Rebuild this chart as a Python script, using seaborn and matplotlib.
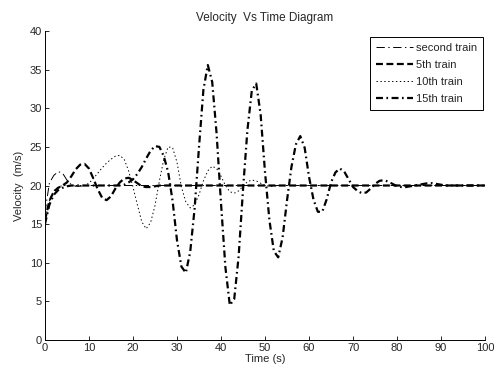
import matplotlib
matplotlib.use("Agg")
import matplotlib.pyplot as plt
import seaborn as sns
import pandas as pd

# ---- data ----
t_second = [0, 1, 2, 3, 4, 5, 6, 7, 8, 9, 100]
v_second = [16.5, 20.3, 21.3, 21.8, 21.6, 20.7, 20.1, 19.9, 19.9, 20.0, 20.0]

t_5th = [0, 1, 2, 3, 4, 5, 6, 7, 8, 9, 10, 11, 12, 13, 14, 15, 16, 17, 18, 19,
         20, 21, 22, 23, 24, 25, 26, 100]
v_5th = [15.5, 18.0, 19.2, 19.7, 20.0, 20.4, 21.2, 22.1, 22.7, 22.8, 22.2, 20.9,
         19.5, 18.4, 18.1, 18.6, 19.6, 20.4, 20.9, 21.0, 20.7, 20.3, 19.9, 19.8,
         19.8, 19.9, 20.0, 20.0]

t_10th = [0, 1, 2, 3, 4, 9, 10, 11, 12, 13, 14, 15, 16, 17, 18, 19, 20, 21, 22,
          23, 24, 25, 26, 27, 28, 29, 30, 31, 32, 33, 34, 35, 36, 37, 38, 39, 40,
          41, 42, 43, 44, 45, 46, 47, 48, 49, 50, 51, 52, 53, 100]
v_10th = [15.5, 18.0, 19.3, 19.8, 20.0, 20.0, 20.3, 20.9, 21.6, 22.3, 22.9, 23.4,
          23.8, 23.9, 23.4, 21.9, 19.8, 17.5, 15.3, 14.4, 15.2, 17.4, 20.6, 23.4,
          25.0, 24.9, 23.0, 19.8, 17.9, 17.1, 17.5, 18.8, 20.6, 21.9, 22.5, 22.2,
          21.2, 20.0, 19.2, 19.0, 19.3, 19.9, 20.5, 20.7, 20.6, 20.3, 20.0, 19.9,
          19.9, 20.0, 20.0]

t_15th = [0, 1, 2, 3, 4, 5, 6, 17, 18, 19, 20, 21, 22, 23, 24, 25, 26, 27,
          28, 29, 30, 31, 32, 33, 34, 35, 36, 37, 38, 39, 40, 41, 42, 43, 44, 45,
          46, 47, 48, 49, 50, 51, 52, 53, 54, 55, 56, 57, 58, 59, 60, 61, 62, 63,
          64, 65, 66, 67, 68, 69, 70, 71, 72, 73, 74, 75, 76, 77, 78, 79, 80, 81,
          82, 83, 84, 85, 86, 87, 88, 89, 90, 91, 100]
v_15th = [15.0, 17.5, 18.8, 19.4, 19.7, 19.9, 20.0, 20.0, 20.1, 20.4, 20.8,
          21.5, 22.4, 23.5, 24.5, 25.1, 25.0, 23.8, 21.7, 18.0, 12.9, 9.5, 8.7,
          11.4, 17.0, 25.0, 32.4, 35.6, 33.4, 26.7, 17.7, 9.4, 4.5, 5.3, 10.8,
          19.5, 27.2, 32.3, 33.2, 29.2, 21.7, 15.5, 11.5, 10.7, 13.3, 18.1, 22.4,
          25.3, 26.4, 24.9, 21.1, 18.2, 16.6, 16.6, 18.2, 20.4, 21.7, 22.2, 21.8,
          20.8, 19.8, 19.3, 19.0, 19.1, 19.6, 20.2, 20.6, 20.7, 20.5, 20.2, 19.9,
          19.8, 19.8, 19.9, 20.0, 20.1, 20.2, 20.3, 20.3, 20.2, 20.1, 20.0, 20.0]

labels = ["second train", "5th train", "10th train", "15th train"]
x_ticks = [0, 10, 20, 30, 40, 50, 60, 70, 80, 90, 100]
y_ticks = [0, 5, 10, 15, 20, 25, 30, 35, 40]

# ---- styling ----
sns.set_style("white")
plt.rcParams['font.family'] = ['Liberation Sans', 'DejaVu Sans']
plt.rcParams['lines.scale_dashes'] = False

fig = plt.figure(figsize=(4.94, 3.74), dpi=100)
ax = fig.add_axes([0.091, 0.091, 0.891, 0.826])

series = [(t_second, v_second), (t_5th, v_5th), (t_10th, v_10th), (t_15th, v_15th)]
styles = [
    dict(lw=0.7, ls=(0, (6, 2.5, 1, 2.5))),
    dict(lw=1.6, ls=(0, (5, 2.5))),
    dict(lw=0.7, ls=(0, (1, 1.8))),
    dict(lw=1.6, ls=(0, (5, 2.5, 1.2, 2.5))),
]
for (tt, vv), lab, st in zip(series, labels, styles):
    df = pd.DataFrame({"t": tt, "v": vv})
    sns.lineplot(data=df, x="t", y="v", ax=ax, color="black",
                 linewidth=st["lw"], linestyle=st["ls"], label=lab,
                 estimator=None, sort=False)

ax.set_xlim(0, 100)
ax.set_ylim(0, 40)
ax.set_xticks(x_ticks)
ax.set_yticks(y_ticks)
ax.tick_params(direction="in", length=3, width=0.7, labelsize=8,
               bottom=True, left=True, top=False, right=False, pad=2)
for s in ["top", "right"]:
    ax.spines[s].set_visible(False)
for s in ["left", "bottom"]:
    ax.spines[s].set_color("black")
    ax.spines[s].set_linewidth(0.7)

ax.set_xlabel("Time (s)", fontsize=8, labelpad=1)
ax.set_ylabel("Velocity  (m/s)", fontsize=8, labelpad=4)
ax.set_title("Velocity  Vs Time Diagram", fontsize=8.5, pad=7)

leg = ax.legend(loc="upper right", fontsize=8, frameon=True, fancybox=False,
                edgecolor="black", framealpha=1, handlelength=3.3,
                handletextpad=0.3, borderpad=0.55, labelspacing=0.62,
                borderaxespad=0, bbox_to_anchor=(0.9955, 0.981))
leg.get_frame().set_linewidth(0.7)

fig.savefig("out.png", dpi=100)
